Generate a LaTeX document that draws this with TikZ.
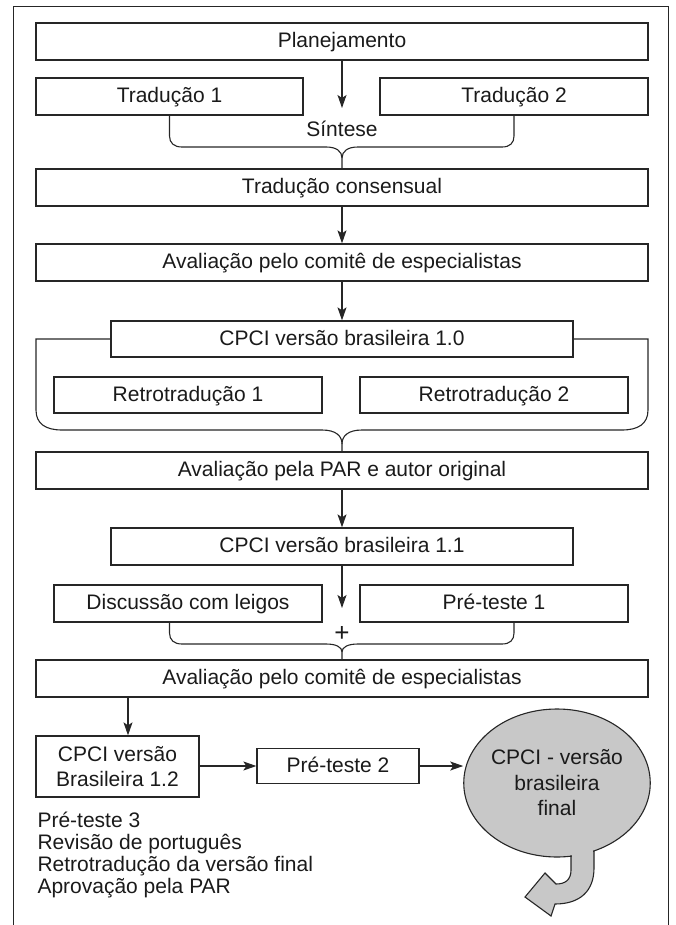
\documentclass[tikz,border=0pt]{standalone}
\usepackage{fontspec}
\setmainfont{Liberation Sans}
\usetikzlibrary{arrows.meta,shapes.geometric}
\definecolor{ln}{HTML}{262626}
\definecolor{fillg}{HTML}{C8C8C8}
\definecolor{txt}{HTML}{1A1A1A}
\begin{document}
\begin{tikzpicture}[x=1pt,y=-1pt,
  lbl/.style={font=\fontsize{21}{25.5}\selectfont, text=txt},
  boxb/.style={lbl, draw=ln, line width=1.3pt, rectangle, inner sep=0pt, minimum height=37pt},
  box/.style={boxb, text height=14pt, text depth=2pt},
  arr/.style={draw=ln, line width=1.1pt, -{Stealth[length=13pt,width=9pt,inset=3pt]}},
  brace/.style={draw=ln, line width=1.1pt},
]
\useasboundingbox (0,0) rectangle (676,925);
% frame
\draw[ln, line width=1pt] (13,925) -- (13,7) -- (668,7) -- (668,925);

% boxes
\node[box, minimum width=612pt] (plan) at (342,41.5) {Planejamento};
\node[box, minimum width=267pt] (t1) at (169.5,96.5) {Tradução 1};
\node[box, minimum width=268pt] (t2) at (514,96.5) {Tradução 2};
\node[lbl, text height=14pt, text depth=2pt] (sint) at (342,131) {Síntese};
\node[box, minimum width=612pt] (cons) at (342,187.5) {Tradução consensual};
\node[box, minimum width=612pt] (av1) at (342,262.5) {Avaliação pelo comitê de especialistas};
\node[box, minimum width=462pt, minimum height=36pt] (v10) at (342,339) {CPCI versão brasileira 1.0};
\node[box, minimum width=268pt, minimum height=36pt] (r1) at (188,395) {Retrotradução 1};
\node[box, minimum width=268pt, minimum height=36pt] (r2) at (494,395) {Retrotradução 2};
\node[box, minimum width=612pt] (avpar) at (342,470.5) {Avaliação pela PAR e autor original};
\node[box, minimum width=462pt] (v11) at (342,546.5) {CPCI versão brasileira 1.1};
\node[box, minimum width=268pt] (disc) at (188,603.5) {Discussão com leigos};
\node[box, minimum width=268pt] (pt1) at (494,603.5) {Pré-teste 1};
\node[font=\fontsize{26}{28}\selectfont, text=txt, inner sep=0pt] (plus) at (342,634) {+};
\node[box, minimum width=612pt] (av2) at (342,678.5) {Avaliação pelo comitê de especialistas};
\node[boxb, minimum width=163pt, minimum height=61pt, align=center] (v12) at (117.5,766.5) {CPCI versão\\Brasileira 1.2};
\node[box, minimum width=162pt, minimum height=35pt] (pt2) at (338,766) {Pré-teste 2};

% tail of the final ellipse (filled under the ellipse)
\fill[fillg] (571,840) -- (571,870) .. controls (571,880) and (565,884) .. (556,884)
  -- (545,873) -- (525,897) -- (551,916) -- (555,904)
  .. controls (580,904) and (594,891) .. (594,868) -- (594,840) -- cycle;
\node[ellipse, draw=ln, fill=fillg, line width=1.1pt, minimum width=174pt,
  minimum height=148pt, inner sep=0pt, align=center, lbl] (fin) at (557,783)
  {CPCI - versão\\brasileira\\final};
\fill[fillg] (572,845) rectangle (593,862);
\draw[ln, line width=1.1pt] (571,855.3) -- (571,870) .. controls (571,880) and (565,884) .. (556,884)
  -- (545,873) -- (525,897) -- (551,916) -- (555,904)
  .. controls (580,904) and (594,891) .. (594,868) -- (594,850.5);

% list
\node[lbl, anchor=base west] (l1) at (34,827) {Pré-teste 3};
\node[lbl, anchor=base west] (l2) at (34,849) {Revisão de português};
\node[lbl, anchor=base west] (l3) at (34,871) {Retrotradução da versão final};
\node[lbl, anchor=base west] (l4) at (34,893) {Aprovação pela PAR};

% arrows
\coordinate (a1) at (342,108);
\coordinate (a2) at (342,608);
\coordinate (ax) at (128,0);
\draw[arr] (plan.south) -- (a1);
\draw[arr] (cons) -- (av1);
\draw[arr] (av1) -- (v10);
\draw[arr] (avpar) -- (v11);
\draw[arr] (v11.south) -- (a2);
\draw[arr] (av2.south -| ax) -- (v12.north -| ax);
\draw[arr] (v12.east |- pt2.west) -- (pt2.west);
\draw[arr] (pt2.east) -- (pt2.east -| fin.west);

% braces
\draw[brace] (t1.south) -- (169.5,136) .. controls (169.5,143) and (174,147) .. (182,147)
  -- (326,147) .. controls (336,147) and (342,151) .. (342,158) -- (cons.north);
\draw[brace] (t2.south) -- (514,136) .. controls (514,143) and (510,147) .. (502,147)
  -- (358,147) .. controls (348,147) and (342,151) .. (342,158);

\draw[brace] (v10.west) -- (36,339) -- (36,410) .. controls (36,424) and (46,430) .. (62,430)
  -- (322,430) .. controls (336,430) and (342,436) .. (342,444) -- (avpar.north);
\draw[brace] (v10.east) -- (648,339) -- (648,410) .. controls (648,424) and (638,430) .. (622,430)
  -- (362,430) .. controls (348,430) and (342,436) .. (342,444);

\draw[brace] (disc.south -| t1.south) -- (169.5,633) .. controls (169.5,640) and (174,644) .. (182,644)
  -- (326,644) .. controls (336,644) and (342,647) .. (342,652) -- (av2.north);
\draw[brace] (pt1.south -| t2.south) -- (514,633) .. controls (514,640) and (510,644) .. (502,644)
  -- (358,644) .. controls (348,644) and (342,647) .. (342,652);
\end{tikzpicture}
\end{document}
